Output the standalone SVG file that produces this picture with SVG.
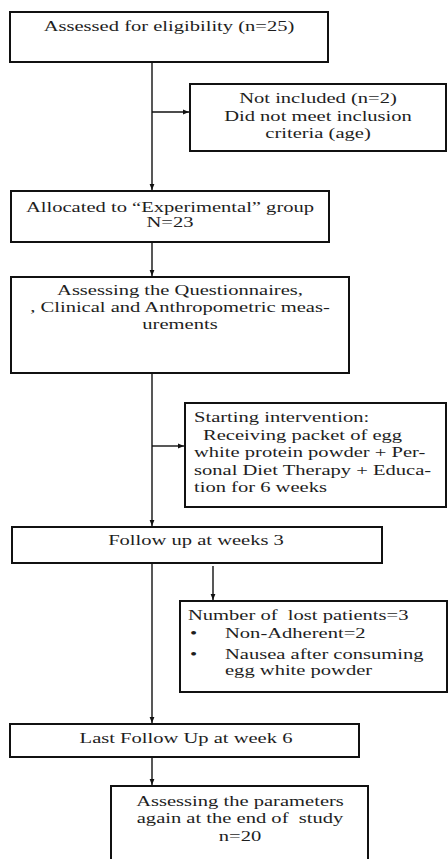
<svg xmlns="http://www.w3.org/2000/svg" width="448" height="859" viewBox="0 0 448 859">
<style>
.box{fill:#fff;stroke:#111;stroke-width:2}
.c{text-anchor:middle}
.ln{stroke:#111;stroke-width:1.4;fill:none}
.ar{marker-end:url(#ah)}
</style>
<defs>
<marker id="ah" viewBox="0 0 10 10" refX="10" refY="5" markerWidth="6" markerHeight="6" markerUnits="userSpaceOnUse" orient="auto">
<path d="M0,1 L10,5 L0,9 Z" fill="#111"/>
</marker>
</defs>
<rect width="448" height="859" fill="#fff"/>
<g id="connectors">
<line class="ln ar" x1="152" y1="62" x2="152" y2="190"/>
<line class="ln ar" x1="152" y1="112" x2="189" y2="112"/>
<line class="ln ar" x1="152" y1="242" x2="152" y2="276"/>
<line class="ln ar" x1="152" y1="373" x2="152" y2="526"/>
<line class="ln ar" x1="152" y1="446" x2="184" y2="446"/>
<line class="ln ar" x1="213" y1="566" x2="213" y2="600"/>
<line class="ln ar" x1="152" y1="563" x2="152" y2="723"/>
<line class="ln ar" x1="152" y1="757" x2="152" y2="785"/>
</g>
<g id="nodes" font-family="Liberation Serif, Times New Roman, serif" font-size="15" fill="#1e1e1e">
<g id="n1">
<rect class="box" x="10" y="12" width="318" height="50"/>
<text class="c" transform="translate(169,31) scale(1.37,1)">Assessed for eligibility (n=25)</text>
</g>
<g id="n2">
<rect class="box" x="190" y="84" width="256" height="67"/>
<text class="c" transform="translate(318,103) scale(1.37,1)">Not included (n=2)</text>
<text class="c" transform="translate(318,121) scale(1.37,1)">Did not meet inclusion</text>
<text class="c" transform="translate(318,138) scale(1.37,1)">criteria (age)</text>
</g>
<g id="n3">
<rect class="box" x="11" y="191" width="318" height="51"/>
<text class="c" transform="translate(170,212) scale(1.37,1)">Allocated to “Experimental” group</text>
<text class="c" transform="translate(170,227) scale(1.37,1)">N=23</text>
</g>
<g id="n4">
<rect class="box" x="11" y="277" width="338" height="96"/>
<text class="c" transform="translate(180,295) scale(1.37,1)">Assessing the Questionnaires,</text>
<text class="c" transform="translate(180,312) scale(1.37,1)">, Clinical and Anthropometric meas-</text>
<text class="c" transform="translate(180,329) scale(1.37,1)">urements</text>
</g>
<g id="n5">
<rect class="box" x="185" y="403" width="261" height="104"/>
<text transform="translate(194,422) scale(1.37,1)">Starting intervention:</text>
<text transform="translate(203,439.5) scale(1.37,1)">Receiving packet of egg</text>
<text transform="translate(194,457) scale(1.37,1)">white protein powder + Per-</text>
<text transform="translate(194,474.5) scale(1.37,1)">sonal Diet Therapy + Educa-</text>
<text transform="translate(194,492) scale(1.37,1)">tion for 6 weeks</text>
</g>
<g id="n6">
<rect class="box" x="12" y="527" width="370" height="36"/>
<text class="c" transform="translate(196,545) scale(1.37,1)">Follow up at weeks 3</text>
</g>
<g id="n7">
<rect class="box" x="180" y="601" width="267" height="91"/>
<text transform="translate(188,620) scale(1.37,1)" xml:space="preserve">Number of  lost patients=3</text>
<text transform="translate(190,638) scale(1.37,1)">•</text>
<text transform="translate(225,638) scale(1.37,1)">Non-Adherent=2</text>
<text transform="translate(190,659) scale(1.37,1)">•</text>
<text transform="translate(225,659) scale(1.37,1)">Nausea after consuming</text>
<text transform="translate(225,675) scale(1.37,1)">egg white powder</text>
</g>
<g id="n8">
<rect class="box" x="10" y="724" width="349" height="33"/>
<text class="c" transform="translate(186,743) scale(1.37,1)">Last Follow Up at week 6</text>
</g>
<g id="n9">
<rect class="box" x="111" y="786" width="257" height="80"/>
<text class="c" transform="translate(240,806) scale(1.37,1)">Assessing the parameters</text>
<text class="c" transform="translate(240,823) scale(1.37,1)" xml:space="preserve">again at the end of  study</text>
<text class="c" transform="translate(240,841) scale(1.37,1)">n=20</text>
</g>
</g>
</svg>
